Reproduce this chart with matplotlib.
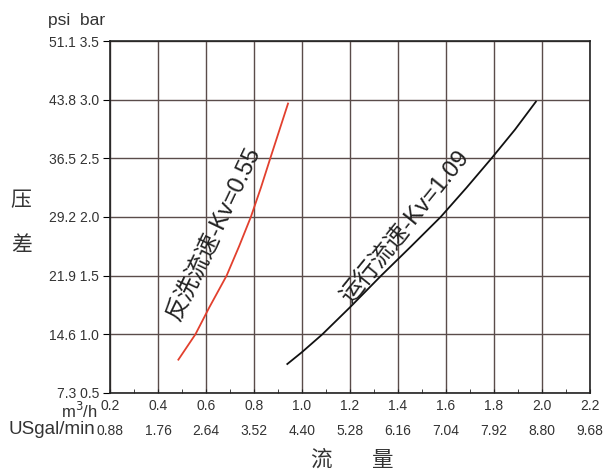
import matplotlib
matplotlib.use("Agg")
import matplotlib.pyplot as plt
from matplotlib.ticker import MultipleLocator

plt.rcParams["font.family"] = ["Liberation Sans", "Noto Sans CJK SC", "DejaVu Sans"]

# flow m3/h, pressure drop bar
backwash_q = [0.485, 0.556, 0.614, 0.686, 0.738, 0.787, 0.829, 0.868, 0.906, 0.942]
backwash_dp = [0.784, 1.0, 1.23, 1.5, 1.75, 2.0, 2.25, 2.5, 2.74, 2.967]
service_q = [0.939, 1.0, 1.085, 1.2, 1.33, 1.455, 1.578, 1.686, 1.79, 1.888, 1.975]
service_dp = [0.747, 0.848, 1.0, 1.23, 1.5, 1.75, 2.0, 2.25, 2.5, 2.745, 2.983]

bar_ticks = [0.5, 1.0, 1.5, 2.0, 2.5, 3.0, 3.5]
psi_labels = ["7.3", "14.6", "21.9", "29.2", "36.5", "43.8", "51.1"]
m3h_ticks = [0.2, 0.4, 0.6, 0.8, 1.0, 1.2, 1.4, 1.6, 1.8, 2.0, 2.2]
usgal_labels = ["0.88", "1.76", "2.64", "3.52", "4.40", "5.28",
                "6.16", "7.04", "7.92", "8.80", "9.68"]

text_color = "#333333"
grid_color = "#5a4c4a"

fig = plt.figure(figsize=(6.05, 4.74), dpi=100)
ax = fig.add_axes([0.1818, 0.1709, 0.7932, 0.7426])

ax.plot(backwash_q, backwash_dp, color="#e2402e", lw=1.3)
ax.plot(service_q, service_dp, color="#111111", lw=1.3)

ax.set_xlim(0.2, 2.2)
ax.set_ylim(0.5, 3.5)
ax.set_xticks(m3h_ticks)
ax.xaxis.set_minor_locator(MultipleLocator(0.1))
ax.set_yticks(bar_ticks)
ax.grid(True, which="major", color=grid_color, lw=1.0)
for s in ax.spines.values():
    s.set_color("#222222")
    s.set_linewidth(1.2)

ax.tick_params(axis="x", which="both", direction="in", length=3, pad=4,
               labelsize=10, labelcolor=text_color, color="#222222")
ax.tick_params(axis="y", direction="out", length=5, pad=3,
               labelsize=10, labelcolor=text_color)
ax.set_xticklabels([f"{v:.1f}" for v in m3h_ticks])
ax.set_yticklabels([f"{p} {b:.1f}" for p, b in zip(psi_labels, bar_ticks)])

xt = ax.get_xaxis_transform()
for v, lab in zip(m3h_ticks, usgal_labels):
    ax.text(v, -0.107, lab, transform=xt, ha="center", va="center",
            fontsize=10, color=text_color)
fig.text(0.161, 0.133, "m$^3$/h", ha="right", va="center", fontsize=12,
         color=text_color)
fig.text(0.158, 0.094, "USgal/min", ha="right", va="center", fontsize=13.5,
         color=text_color)
fig.text(0.127, 0.956, "psi  bar", ha="center", va="center", fontsize=12.5,
         color=text_color)

cjk = ["Noto Sans CJK SC", "DejaVu Sans"]
fig.text(0.035, 0.578, "压", ha="center", va="center", fontsize=15,
         family=cjk, color=text_color)
fig.text(0.035, 0.483, "差", ha="center", va="center", fontsize=15,
         family=cjk, color=text_color)
fig.text(0.531, 0.03, "流", ha="center", va="center", fontsize=15.5,
         family=cjk, color=text_color)
fig.text(0.633, 0.03, "量", ha="center", va="center", fontsize=15.5,
         family=cjk, color=text_color)

mixed = ["Liberation Sans", "Noto Sans CJK SC"]
ax.text(0.6375, 1.855, "反洗流速-Kv=0.55", rotation=64.5, ha="center",
        va="center", fontsize=17, family=mixed, color="#222222",
        rotation_mode="anchor")
ax.text(1.429, 1.918, "运行流速-Kv=1.09", rotation=51, ha="center",
        va="center", fontsize=17, family=mixed, color="#222222",
        rotation_mode="anchor")

fig.savefig("out.png", dpi=100)
